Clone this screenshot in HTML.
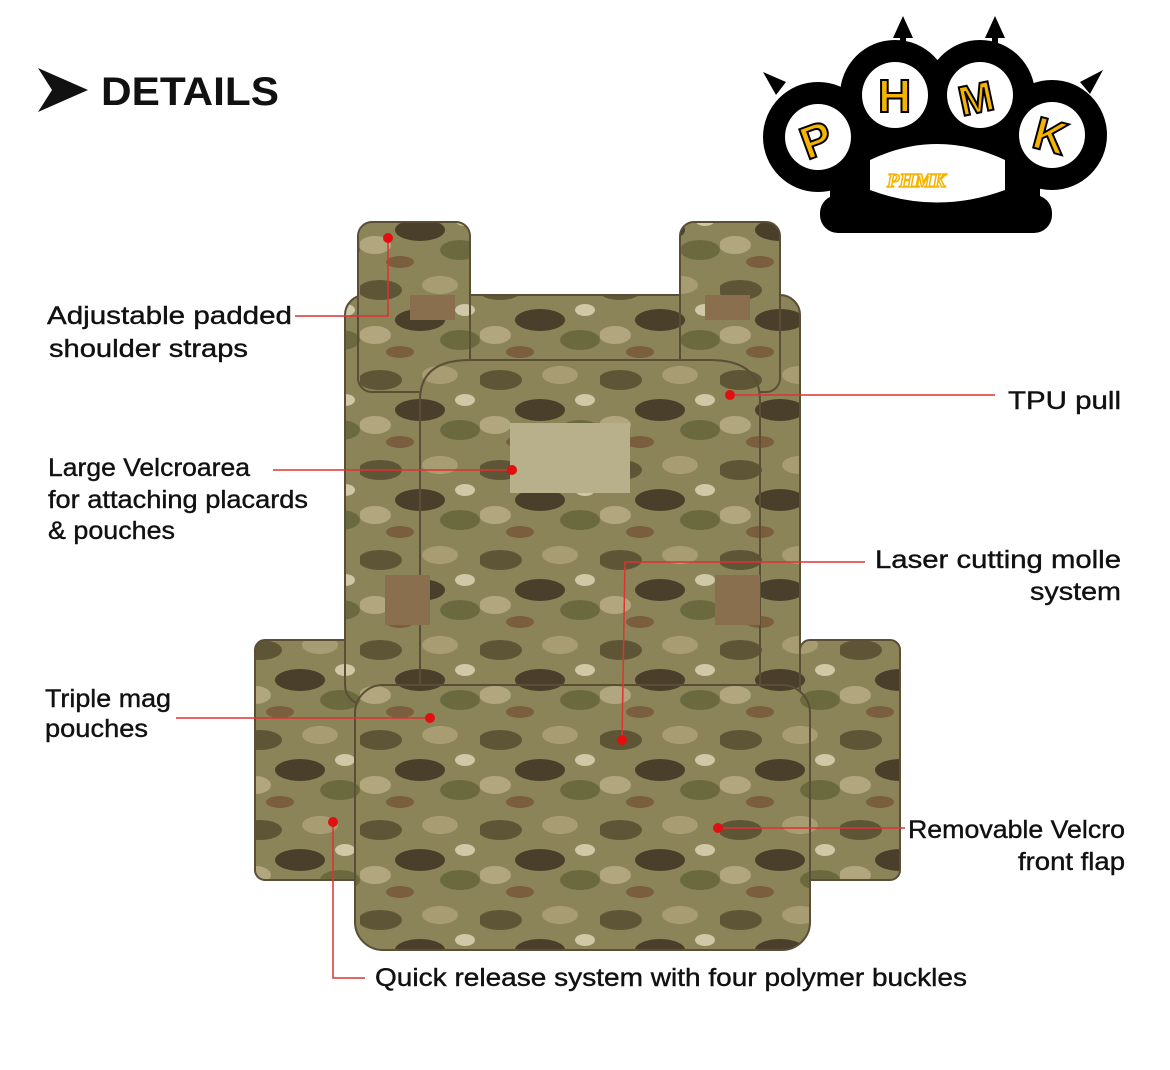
<!DOCTYPE html>
<html><head><meta charset="utf-8"><style>
body{margin:0;width:1170px;height:1070px;background:#fff;overflow:hidden;font-family:"Liberation Sans",sans-serif;}
svg{position:absolute;left:0;top:0}
.t{font-family:"Liberation Sans",sans-serif;font-size:25px;fill:#111;stroke:#111;stroke-width:0.4;}
</style></head><body>
<svg width="1170" height="1070" viewBox="0 0 1170 1070">
<defs>
<pattern id="camo" width="120" height="90" patternUnits="userSpaceOnUse">
<rect width="120" height="90" fill="#8a8458"/>
<ellipse cx="20" cy="20" rx="22" ry="10" fill="#5e5536"/>
<ellipse cx="80" cy="15" rx="18" ry="9" fill="#a89c72"/>
<ellipse cx="60" cy="50" rx="25" ry="11" fill="#4a3f2a"/>
<ellipse cx="15" cy="65" rx="16" ry="9" fill="#b1a67e"/>
<ellipse cx="100" cy="70" rx="20" ry="10" fill="#6b6a3e"/>
<ellipse cx="40" cy="82" rx="14" ry="6" fill="#7a5e3e"/>
<ellipse cx="105" cy="40" rx="10" ry="6" fill="#d0c7a6"/>
</pattern>
</defs>
<polygon points="38,68 88,90 38,112 52,90" fill="#111"/>
<text x="101" y="105" font-family="Liberation Sans" font-weight="bold" font-size="40" fill="#111" textLength="178" lengthAdjust="spacingAndGlyphs">DETAILS</text>
<g fill="#000">
<polygon points="903,16 893,38 913,38"/><rect x="900" y="36" width="6" height="12"/>
<polygon points="995,16 985,38 1005,38"/><rect x="992" y="36" width="6" height="12"/>
<polygon points="763,72 776,95 786,82"/>
<polygon points="1103,70 1090,94 1080,82"/>
<circle cx="818" cy="137" r="55"/><circle cx="895" cy="95" r="55"/><circle cx="980" cy="95" r="55"/><circle cx="1052" cy="135" r="55"/>
<rect x="830" y="110" width="210" height="95"/>
<rect x="820" y="195" width="232" height="38" rx="18"/>
</g>
<g fill="#fff">
<circle cx="818" cy="137" r="33"/><circle cx="895" cy="95" r="33"/><circle cx="980" cy="95" r="33"/><circle cx="1052" cy="135" r="33"/>
<path d="M870,160 Q937,128 1005,160 L1005,190 Q937,215 870,190 Z"/>
</g>
<g font-family="Liberation Sans" font-weight="bold" fill="#f4b400" stroke="#000" stroke-width="2">
<text x="800" y="155" font-size="46" transform="rotate(-20 818 137)">P</text>
<text x="878" y="112" font-size="46">H</text>
<text x="958" y="112" font-size="42" transform="rotate(-12 980 95)">M</text>
<text x="1034" y="152" font-size="46" transform="rotate(15 1052 135)">K</text>
<text x="887" y="187" font-size="20" font-style="italic" fill="#fff" stroke="#f4b400" stroke-width="1.5" font-family="Liberation Serif">PHMK</text>
</g>
<g stroke="#5a4e36" stroke-width="2">
<rect x="255" y="640" width="115" height="240" rx="10" fill="url(#camo)"/>
<rect x="800" y="640" width="100" height="240" rx="10" fill="url(#camo)"/>
<rect x="345" y="295" width="455" height="410" rx="20" fill="url(#camo)"/>
<rect x="358" y="222" width="112" height="170" rx="14" fill="url(#camo)"/>
<rect x="680" y="222" width="100" height="170" rx="14" fill="url(#camo)"/>
<path d="M420,400 Q420,360 470,360 L710,360 Q760,360 760,400 L760,690 L420,690 Z" fill="url(#camo)"/>
<rect x="355" y="685" width="455" height="265" rx="28" fill="url(#camo)"/>
</g>
<rect x="510" y="423" width="120" height="70" fill="#b7b08a"/>
<g fill="#8a6f4e"><rect x="385" y="575" width="45" height="50"/><rect x="715" y="575" width="45" height="50"/><rect x="410" y="295" width="45" height="25"/><rect x="705" y="295" width="45" height="25"/></g>
<g stroke="#d33" stroke-width="1.5" fill="none">
<polyline points="295,316 388,316 388,238"/>
<line x1="730" y1="395" x2="995" y2="395"/>
<line x1="273" y1="470" x2="512" y2="470"/>
<polyline points="865,562 625,562 622,740"/>
<line x1="176" y1="718" x2="430" y2="718"/>
<line x1="718" y1="828" x2="905" y2="828"/>
<polyline points="333,822 333,978 365,978"/>
</g>
<g fill="#e01010"><circle cx="388" cy="238" r="5"/><circle cx="730" cy="395" r="5"/><circle cx="512" cy="470" r="5"/><circle cx="622" cy="740" r="5"/><circle cx="430" cy="718" r="5"/><circle cx="718" cy="828" r="5"/><circle cx="333" cy="822" r="5"/></g>
<text class="t" x="47" y="324" textLength="245" lengthAdjust="spacingAndGlyphs">Adjustable padded</text>
<text class="t" x="49" y="357" textLength="199" lengthAdjust="spacingAndGlyphs">shoulder straps</text>
<text class="t" x="1008" y="409" textLength="113" lengthAdjust="spacingAndGlyphs">TPU  pull</text>
<text class="t" x="48" y="476" textLength="202" lengthAdjust="spacingAndGlyphs">Large Velcroarea</text>
<text class="t" x="48" y="508" textLength="260" lengthAdjust="spacingAndGlyphs">for attaching placards</text>
<text class="t" x="48" y="539" textLength="127" lengthAdjust="spacingAndGlyphs">&amp; pouches</text>
<text class="t" x="875" y="568" textLength="246" lengthAdjust="spacingAndGlyphs">Laser cutting molle</text>
<text class="t" x="1030" y="600" textLength="91" lengthAdjust="spacingAndGlyphs">system</text>
<text class="t" x="45" y="707" textLength="126" lengthAdjust="spacingAndGlyphs">Triple mag</text>
<text class="t" x="45" y="737" textLength="103" lengthAdjust="spacingAndGlyphs">pouches</text>
<text class="t" x="908" y="838" textLength="217" lengthAdjust="spacingAndGlyphs">Removable Velcro</text>
<text class="t" x="1018" y="870" textLength="107" lengthAdjust="spacingAndGlyphs">front flap</text>
<text class="t" x="375" y="986" textLength="592" lengthAdjust="spacingAndGlyphs">Quick release system with four polymer buckles</text>
</svg>
</body></html>
